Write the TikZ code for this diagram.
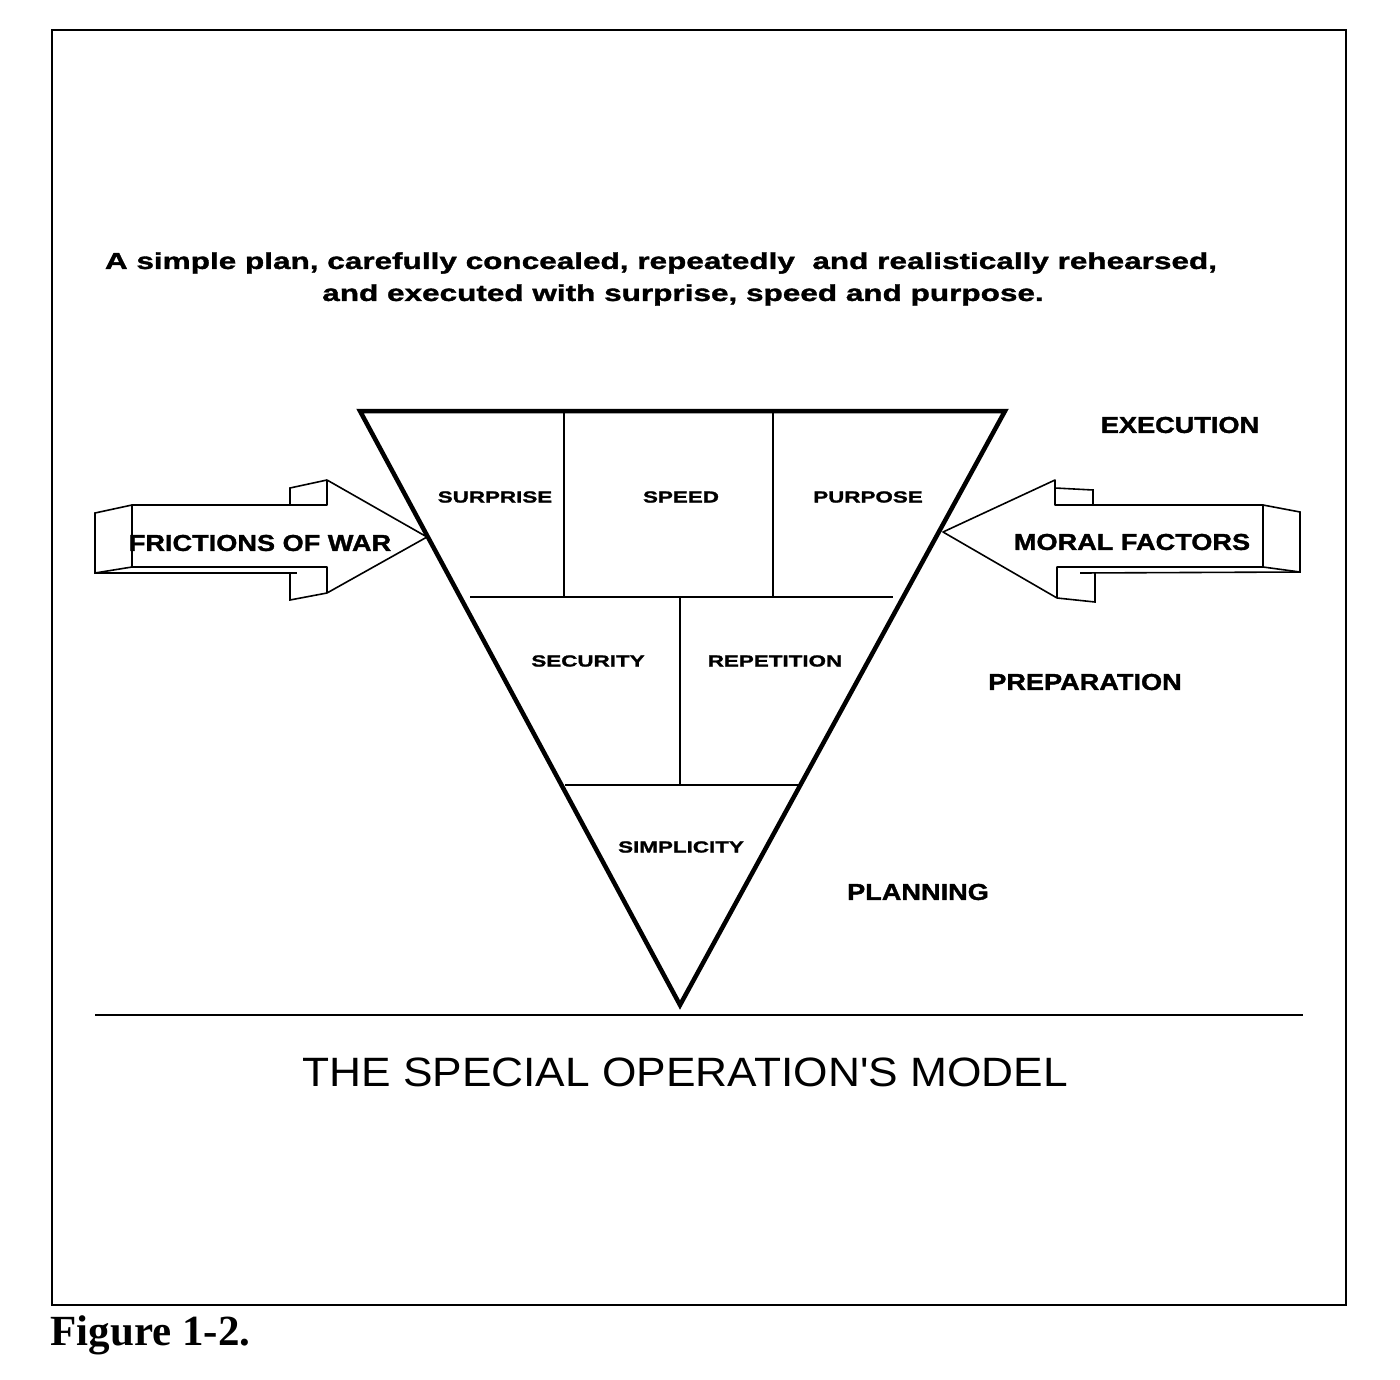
\documentclass[tikz,border=0pt]{standalone}
\usepackage{fontspec}
\setmainfont{Liberation Sans}
\newfontfamily\figfont{Liberation Serif}
\newfontfamily\wideA[FakeStretch=1.37,FakeBold=1.5]{Liberation Sans Bold}
\newfontfamily\wideB[FakeStretch=1.4,FakeBold=1.5]{Liberation Sans Bold}
\newfontfamily\wideC[FakeStretch=1.18,FakeBold=1.5]{Liberation Sans Bold}
\newfontfamily\wideD[FakeStretch=1.08]{Liberation Sans}
\begin{document}
\begin{tikzpicture}[x=1pt,y=-1pt,
  lbl/.style={font=\wideB\fontsize{16}{18}\selectfont},
  big/.style={font=\wideC\fontsize{23}{26}\selectfont},
  quote/.style={font=\wideA\fontsize{23}{31}\selectfont},
  thin/.style={line width=1.6pt},
  thick/.style={line width=4.5pt,line join=miter}]
\useasboundingbox (0,0) rectangle (1400,1380);
\draw[line width=2pt] (52,30) rectangle (1346,1305);
% text
\node[quote] (quote1) at (661,263) {A simple plan, carefully concealed, repeatedly\ \ and realistically rehearsed,};
\node[quote] (quote2) at (683,295) {and executed with surprise, speed and purpose.};
% triangle
\coordinate (tl) at (360,411); \coordinate (tr) at (1005,411); \coordinate (bt) at (680,1005);
\draw[thin] (470,597) -- (893,597);
\draw[thin] (564,411) -- (564,597);
\draw[thin] (773,411) -- (773,597);
\draw[thin] (680,597) -- (680,785);
\draw[thin] (565,785) -- (798,785);
\draw[thick] (tl) -- (tr) -- (bt) -- cycle;
\node[lbl] (surprise) at (495,497) {SURPRISE};
\node[lbl] (speed) at (681,497) {SPEED};
\node[lbl] (purpose) at (868,497) {PURPOSE};
\node[lbl] (security) at (588,661) {SECURITY};
\node[lbl] (repetition) at (775,661) {REPETITION};
\node[lbl] (simplicity) at (681,847) {SIMPLICITY};
\node[big] (exec) at (1180,425) {EXECUTION};
\node[big] (prep) at (1085,682) {PREPARATION};
\node[big] (plan) at (918,892) {PLANNING};
% left arrow
\draw[thin,fill=white,line join=round] (132,505) -- (327,505) -- (327,480) -- (427,537) -- (327,593) -- (327,567) -- (132,567) -- cycle;
\draw[thin] (132,505) -- (95,513) -- (95,573) -- (132,567);
\draw[thin] (95,573) -- (297,573);
\draw[thin] (290,505) -- (290,488) -- (327,480);
\draw[thin] (290,573) -- (290,600) -- (327,593);
\node[big] (fric) at (260,543) {FRICTIONS OF WAR};
% right arrow
\draw[thin,fill=white,line join=round] (1263,505) -- (1055,505) -- (1055,480) -- (943,532) -- (1057,598) -- (1057,567) -- (1263,567) -- cycle;
\draw[thin] (1263,505) -- (1300,512) -- (1300,572) -- (1263,567);
\draw[thin] (1080,573) -- (1300,572);
\draw[thin] (1055,488) -- (1093,490) -- (1093,505);
\draw[thin] (1057,598) -- (1095,602) -- (1095,573);
\node[big] (moral) at (1132,542) {MORAL FACTORS};
% base
\draw[line width=2pt] (95,1015) -- (1303,1015);
\node[font=\wideD\fontsize{41}{44}\selectfont] (title) at (685,1072) {THE SPECIAL OPERATION'S MODEL};
\node[font=\figfont\bfseries\fontsize{43}{46}\selectfont,anchor=west] (fig) at (47,1335) {Figure 1-2.};
\end{tikzpicture}
\end{document}
